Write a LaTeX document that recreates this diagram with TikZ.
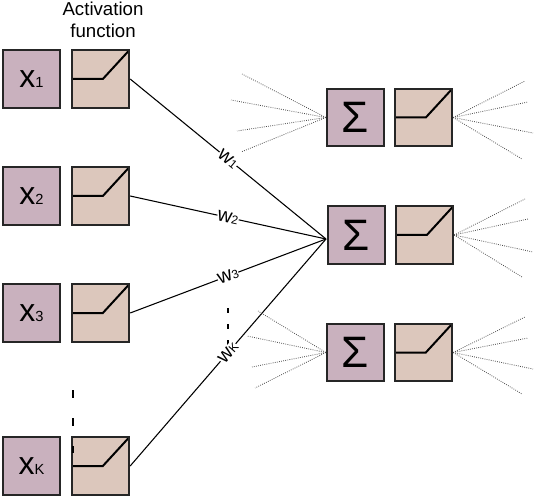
\documentclass[tikz,border=0pt]{standalone}
\usepackage{fontspec}
\setmainfont{Liberation Sans}
\usetikzlibrary{
  positioning
}
\tikzset{>=stealth}
\tikzset{
  blockbox/.style={draw=black!85,line width=1.5pt,minimum size=43pt,inner sep=0pt},
  inputbox/.style={blockbox,fill=inputfill,font=\fontsize{24}{24}\selectfont},
  sumbox/.style={blockbox,fill=inputfill,font=\fontsize{33}{33}\selectfont},
  activationbox/.style={blockbox,fill=activationfill,path picture={
    \draw[black,line width=1.5pt] (path picture bounding box.west) -- ++(31,0) -- (path picture bounding box.north east);}},
  weightline/.style={black,line width=0.8pt},
  weightlabel/.style={fill=white,inner sep=0.2pt,sloped,pos=0.5,font=\fontsize{15}{15}\selectfont},
  outlink/.style={black!70,line width=0.6pt,densely dotted},
  skipline/.style={black,line width=1pt,dash pattern=on 6pt off 15pt}
}
\definecolor{inputfill}{HTML}{C9B1BE}
\definecolor{activationfill}{HTML}{DCC7BC}
\newcommand{\subtext}[1]{{\fontsize{11}{11}\selectfont #1}}
\newcommand{\subweight}[1]{{\fontsize{9}{9}\selectfont #1}}
\begin{document}
\begin{tikzpicture}[x=0.75pt,y=-0.75pt]
	\useasboundingbox (0,0) rectangle (534,498);
	\node[align=center,font=\fontsize{14}{16.5}\selectfont] (title) at (103,20) {Activation\\function};
	% input column
	\node[inputbox] (x1) at (31.5,79) {x\subtext{1}};
	\node[inputbox] (x2) at (31.5,196) {x\subtext{2}};
	\node[inputbox] (x3) at (31.5,313) {x\subtext{3}};
	\node[inputbox] (xK) at (31.5,466) {x\subtext{K}};
	\node[activationbox] (act1) at (100.5,79) {};
	\node[activationbox] (act2) at (100.5,196) {};
	\node[activationbox] (act3) at (100.5,313) {};
	\node[activationbox] (actK) at (100.5,466) {};
	% hidden column
	\node[sumbox] (sumA) at (355.5,117.5) {Σ};
	\node[sumbox] (sumB) at (356.5,235) {Σ};
	\node[sumbox] (sumC) at (355.5,352.5) {Σ};
	\node[activationbox] (actA) at (423.5,117.5) {};
	\node[activationbox] (actB) at (424.5,235) {};
	\node[activationbox] (actC) at (423.5,352.5) {};
	% ellipsis marks
	\coordinate (skipAtop) at (73,390);
	\coordinate (skipAend) at (73,453);
	\coordinate (skipBtop) at (228,308);
	\coordinate (skipBend) at (228,345);
	\draw[skipline] (skipAtop)--(skipAend);
	\draw[skipline,line width=0.8pt,dash pattern=on 4pt off 8pt] (skipBtop)--(skipBend);
	% weights
	\coordinate (hub) at (326,239);
	\draw[weightline] (act1.east)--(hub) node[weightlabel] {w\subweight{1}};
	\draw[weightline] (act2.east)--(hub) node[weightlabel] {w\subweight{2}};
	\draw[weightline] (act3.east)--(hub) node[weightlabel] {w\subweight{3}};
	\draw[weightline] (actK.east)--(hub) node[weightlabel] {w\subweight{K}};
	% dotted links
	\foreach \px/\py in {242/74,231/100,237/131,241/152} {
		\coordinate (tip) at (\px,\py);
		\draw[outlink] (sumA.west)--(tip);
	}
	\foreach \px/\py in {258/311,247/336,252/367,255/388} {
		\coordinate (tip) at (\px,\py);
		\draw[outlink] (sumC.west)--(tip);
	}
	\foreach \px/\py in {525/81,528/102,533/133,522/159} {
		\coordinate (tip) at (\px,\py);
		\draw[outlink] (actA.east)--(tip);
	}
	\foreach \px/\py in {525/199,528/219,533/252,522/277} {
		\coordinate (tip) at (\px,\py);
		\draw[outlink] (actB.east)--(tip);
	}
	\foreach \px/\py in {525/317,528/338,533/369,522/394} {
		\coordinate (tip) at (\px,\py);
		\draw[outlink] (actC.east)--(tip);
	}
\end{tikzpicture}
\end{document}
